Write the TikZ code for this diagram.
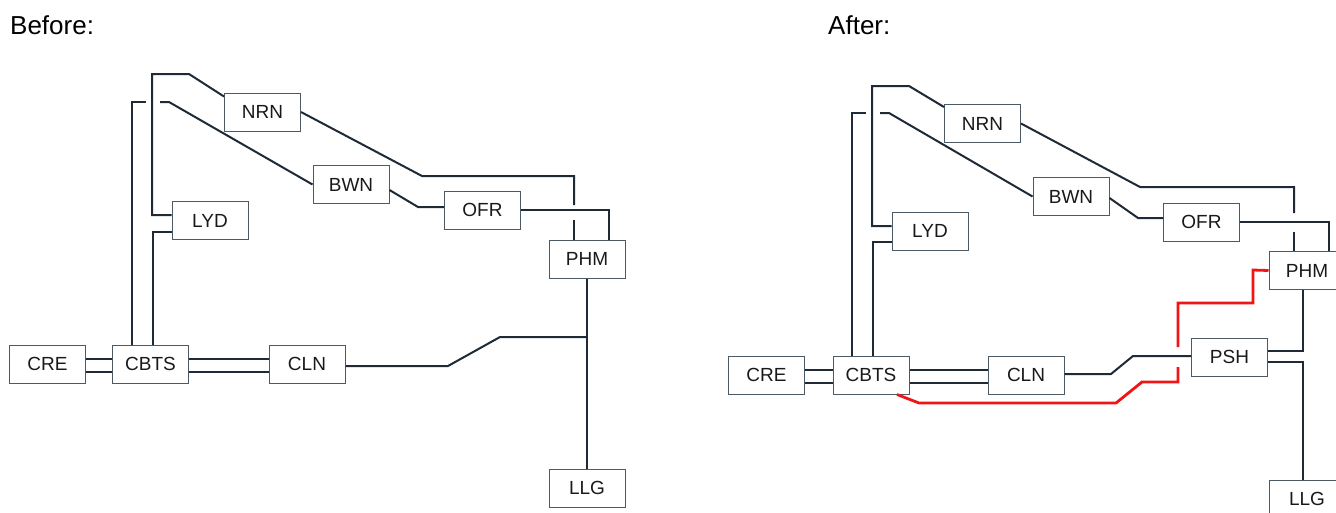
\documentclass[tikz,border=0pt]{standalone}
\usepackage{fontspec}
\setmainfont{Liberation Sans}
\usetikzlibrary{calc}
\definecolor{wire}{RGB}{30,42,54}
\definecolor{boxline}{RGB}{75,90,100}
\definecolor{redline}{RGB}{240,20,20}
\begin{document}
\begin{tikzpicture}[x=1pt,y=-1pt,
  stn/.style={draw=boxline,line width=1pt,minimum width=76pt,minimum height=38pt,inner sep=0pt,font=\fontsize{19}{21}\selectfont,text=black!90},
  wl/.style={draw=wire,line width=2pt},
  rl/.style={draw=redline,line width=2.8pt},
  ttl/.style={anchor=west,font=\fontsize{26}{28}\selectfont,inner sep=0pt}]
\useasboundingbox (0,0) rectangle (1336,512);
\clip (0,0) rectangle (1336,512);
% titles
\node[ttl] (tb) at (10,25) {Before:};
\node[ttl] (ta) at (828,25) {After:};
% ---------- Before ----------
\node[stn] (NRN) at (262.5,112) {NRN};
\node[stn] (BWN) at (351,184.5) {BWN};
\node[stn] (LYD) at (210,220.5) {LYD};
\node[stn] (OFR) at (482.5,210) {OFR};
\node[stn] (PHM) at (587,259) {PHM};
\node[stn] (CRE) at (47.5,364) {CRE};
\node[stn] (CBTS) at (150.5,364) {CBTS};
\node[stn] (CLN) at (307,364) {CLN};
\node[stn] (LLG) at (587,488) {LLG};
\draw[wl] ($(NRN.north west)+(0,4)$) -- (189,74) -- (152,74) -- (152,215) -- (LYD.west |- 0,215);
\draw[wl] (CBTS.north -| 132,0) -- (132,102) -- (146,102);
\draw[wl] (160,102) -- (169,102) -- (BWN.west);
\draw[wl] (LYD.west |- 0,232) -- (153,232) -- (CBTS.north -| 153,0);
\draw[wl] (NRN.east) -- (422,176) -- (574,176) -- (574,205);
\draw[wl] (574,220) -- (PHM.north -| 574,0);
\draw[wl] (BWN.east |- 0,190) -- (418,207) -- (OFR.west |- 0,207);
\draw[wl] (OFR.east) -- (609,210) -- (PHM.north -| 609,0);
\draw[wl] (PHM.south) -- (LLG.north);
\draw[wl] (CLN.east |- 0,366) -- (448,366) -- (500,337) -- (PHM.south |- 0,337);
\draw[wl] (CRE.east |- 0,359) -- (CBTS.west |- 0,359);
\draw[wl] (CRE.east |- 0,372) -- (CBTS.west |- 0,372);
\draw[wl] (CBTS.east |- 0,359) -- (CLN.west |- 0,359);
\draw[wl] (CBTS.east |- 0,372) -- (CLN.west |- 0,372);
% ---------- After ----------
\node[stn] (NRN2) at (982.5,123.5) {NRN};
\node[stn] (BWN2) at (1071,196.5) {BWN};
\node[stn] (LYD2) at (930,231) {LYD};
\node[stn] (OFR2) at (1201.5,222) {OFR};
\node[stn] (PHM2) at (1307,270.5) {PHM};
\node[stn] (PSH2) at (1229.5,357) {PSH};
\node[stn] (CRE2) at (766.5,375) {CRE};
\node[stn] (CBTS2) at (871,375) {CBTS};
\node[stn] (CLN2) at (1026,375) {CLN};
\node[stn] (LLG2) at (1307,499) {LLG};
\draw[wl] ($(NRN2.north west)+(0,3)$) -- (909,86) -- (872,86) -- (872,226) -- (LYD2.west |- 0,226);
\draw[wl] (CBTS2.north -| 852,0) -- (852,113) -- (866,113);
\draw[wl] (880,113) -- (889,113) -- (BWN2.west);
\draw[wl] (LYD2.west |- 0,242) -- (873,242) -- (CBTS2.north -| 873,0);
\draw[wl] (NRN2.east) -- (1140,187) -- (1294,187) -- (1294,213);
\draw[wl] (1294,232) -- (PHM2.north -| 1294,0);
\draw[wl] (BWN2.east |- 0,198) -- (1138,218) -- (OFR2.west |- 0,218);
\draw[wl] (OFR2.east) -- (1329,222) -- (PHM2.north -| 1329,0);
\draw[wl] (PHM2.south -| 1303,0) -- (1303,351) -- (PSH2.east |- 0,351);
\draw[wl] (PSH2.east |- 0,362) -- (1303,362) -- (LLG2.north -| 1303,0);
\draw[wl] (CLN2.east |- 0,374) -- (1111,374) -- (1133,356) -- (PSH2.west |- 0,356);
\draw[wl] (CRE2.east |- 0,370) -- (CBTS2.west |- 0,370);
\draw[wl] (CRE2.east |- 0,383) -- (CBTS2.west |- 0,383);
\draw[wl] (CBTS2.east |- 0,370) -- (CLN2.west |- 0,370);
\draw[wl] (CBTS2.east |- 0,383) -- (CLN2.west |- 0,383);
\draw[rl] (PHM2.west) -- (1253,270) -- (1253,303) -- (1178,303) -- (1178,347);
\draw[rl] (1178,367) -- (1178,382) -- (1142,382) -- (1116,403) -- (919,403) -- (CBTS2.south -| 897,0);
\end{tikzpicture}
\end{document}
